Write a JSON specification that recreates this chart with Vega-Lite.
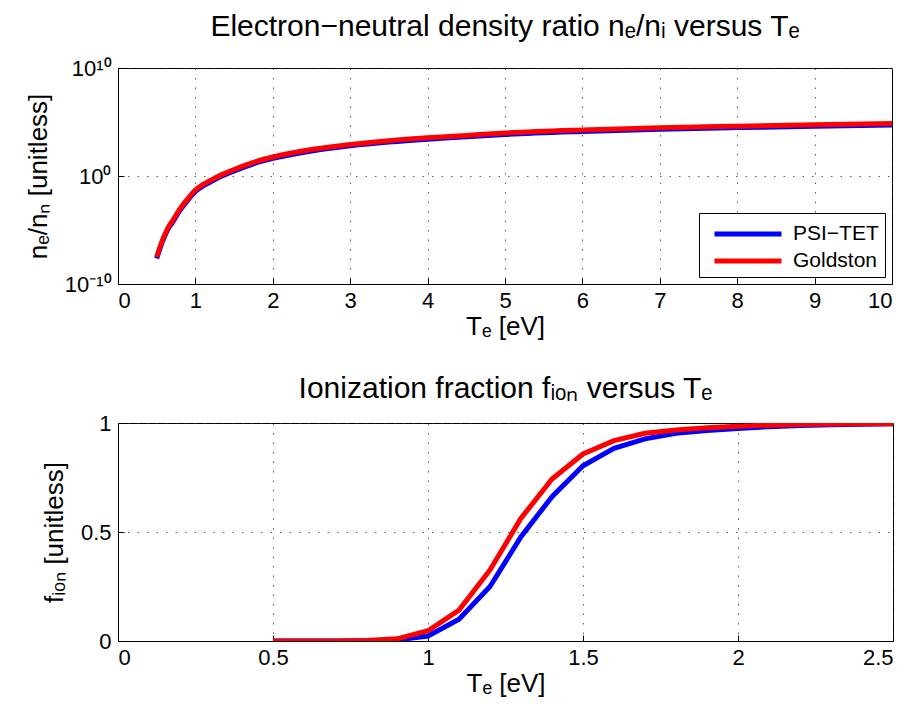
{
  "$schema": "https://vega.github.io/schema/vega-lite/v6.json",
  "background": "white",
  "padding": {"left": 24, "right": 19, "top": 11, "bottom": 5},
  "datasets": {
    "top": [
      {"T": 0.5, "model": "PSI−TET", "value": 2.34e-8},
      {"T": 0.55, "model": "PSI−TET", "value": 2.88e-7},
      {"T": 0.6, "model": "PSI−TET", "value": 2.34e-6},
      {"T": 0.65, "model": "PSI−TET", "value": 1.38e-5},
      {"T": 0.7, "model": "PSI−TET", "value": 4.67e-5},
      {"T": 0.8, "model": "PSI−TET", "value": 6.59e-4},
      {"T": 0.9, "model": "PSI−TET", "value": 5.62e-3},
      {"T": 1.0, "model": "PSI−TET", "value": 0.0371},
      {"T": 1.1, "model": "PSI−TET", "value": 0.123},
      {"T": 1.2, "model": "PSI−TET", "value": 0.295},
      {"T": 1.35, "model": "PSI−TET", "value": 1.046},
      {"T": 1.5, "model": "PSI−TET", "value": 2.95},
      {"T": 1.75, "model": "PSI−TET", "value": 13.5},
      {"T": 2.0, "model": "PSI−TET", "value": 42.6},
      {"T": 2.5, "model": "PSI−TET", "value": 209},
      {"T": 3.0, "model": "PSI−TET", "value": 616},
      {"T": 3.5, "model": "PSI−TET", "value": 1378},
      {"T": 4.0, "model": "PSI−TET", "value": 2566},
      {"T": 4.5, "model": "PSI−TET", "value": 4258},
      {"T": 5.0, "model": "PSI−TET", "value": 7067},
      {"T": 6.0, "model": "PSI−TET", "value": 13466},
      {"T": 7.0, "model": "PSI−TET", "value": 21342},
      {"T": 8.0, "model": "PSI−TET", "value": 30146},
      {"T": 9.0, "model": "PSI−TET", "value": 40666},
      {"T": 10.0, "model": "PSI−TET", "value": 53609},
      {"T": 0.5, "model": "Goldston", "value": 3.16e-8},
      {"T": 0.55, "model": "Goldston", "value": 3.89e-7},
      {"T": 0.6, "model": "Goldston", "value": 3.16e-6},
      {"T": 0.65, "model": "Goldston", "value": 1.86e-5},
      {"T": 0.7, "model": "Goldston", "value": 6.31e-5},
      {"T": 0.8, "model": "Goldston", "value": 8.91e-4},
      {"T": 0.9, "model": "Goldston", "value": 7.59e-3},
      {"T": 1.0, "model": "Goldston", "value": 0.0501},
      {"T": 1.1, "model": "Goldston", "value": 0.166},
      {"T": 1.2, "model": "Goldston", "value": 0.398},
      {"T": 1.35, "model": "Goldston", "value": 1.413},
      {"T": 1.5, "model": "Goldston", "value": 3.98},
      {"T": 1.75, "model": "Goldston", "value": 18.2},
      {"T": 2.0, "model": "Goldston", "value": 57.5},
      {"T": 2.5, "model": "Goldston", "value": 282},
      {"T": 3.0, "model": "Goldston", "value": 832},
      {"T": 3.5, "model": "Goldston", "value": 1862},
      {"T": 4.0, "model": "Goldston", "value": 3467},
      {"T": 4.5, "model": "Goldston", "value": 5754},
      {"T": 5.0, "model": "Goldston", "value": 9550},
      {"T": 6.0, "model": "Goldston", "value": 18197},
      {"T": 7.0, "model": "Goldston", "value": 28840},
      {"T": 8.0, "model": "Goldston", "value": 40738},
      {"T": 9.0, "model": "Goldston", "value": 54954},
      {"T": 10.0, "model": "Goldston", "value": 72444}
    ],
    "bottom": [
      {"T": 0.5, "model": "PSI−TET", "f": 0.0},
      {"T": 0.6, "model": "PSI−TET", "f": 0.0},
      {"T": 0.7, "model": "PSI−TET", "f": 0.0},
      {"T": 0.8, "model": "PSI−TET", "f": 0.001},
      {"T": 0.9, "model": "PSI−TET", "f": 0.005},
      {"T": 1.0, "model": "PSI−TET", "f": 0.023},
      {"T": 1.1, "model": "PSI−TET", "f": 0.1},
      {"T": 1.2, "model": "PSI−TET", "f": 0.25},
      {"T": 1.3, "model": "PSI−TET", "f": 0.478},
      {"T": 1.4, "model": "PSI−TET", "f": 0.662},
      {"T": 1.5, "model": "PSI−TET", "f": 0.804},
      {"T": 1.6, "model": "PSI−TET", "f": 0.884},
      {"T": 1.7, "model": "PSI−TET", "f": 0.927},
      {"T": 1.8, "model": "PSI−TET", "f": 0.953},
      {"T": 1.9, "model": "PSI−TET", "f": 0.965},
      {"T": 2.0, "model": "PSI−TET", "f": 0.975},
      {"T": 2.1, "model": "PSI−TET", "f": 0.983},
      {"T": 2.2, "model": "PSI−TET", "f": 0.988},
      {"T": 2.3, "model": "PSI−TET", "f": 0.992},
      {"T": 2.4, "model": "PSI−TET", "f": 0.994},
      {"T": 2.5, "model": "PSI−TET", "f": 0.996},
      {"T": 0.5, "model": "Goldston", "f": 0.0},
      {"T": 0.6, "model": "Goldston", "f": 0.0},
      {"T": 0.7, "model": "Goldston", "f": 0.0},
      {"T": 0.8, "model": "Goldston", "f": 0.002},
      {"T": 0.9, "model": "Goldston", "f": 0.01},
      {"T": 1.0, "model": "Goldston", "f": 0.047},
      {"T": 1.1, "model": "Goldston", "f": 0.142},
      {"T": 1.2, "model": "Goldston", "f": 0.326},
      {"T": 1.3, "model": "Goldston", "f": 0.563},
      {"T": 1.4, "model": "Goldston", "f": 0.743},
      {"T": 1.5, "model": "Goldston", "f": 0.858},
      {"T": 1.6, "model": "Goldston", "f": 0.919},
      {"T": 1.7, "model": "Goldston", "f": 0.953},
      {"T": 1.8, "model": "Goldston", "f": 0.968},
      {"T": 1.9, "model": "Goldston", "f": 0.978},
      {"T": 2.0, "model": "Goldston", "f": 0.985},
      {"T": 2.1, "model": "Goldston", "f": 0.99},
      {"T": 2.2, "model": "Goldston", "f": 0.993},
      {"T": 2.3, "model": "Goldston", "f": 0.995},
      {"T": 2.4, "model": "Goldston", "f": 0.996},
      {"T": 2.5, "model": "Goldston", "f": 0.997}
    ]
  },
  "config": {
    "font": "Liberation Sans",
    "view": {"stroke": "black", "strokeWidth": 1},
    "axis": {
      "domainColor": "black",
      "domainWidth": 1,
      "tickColor": "black",
      "tickSize": -6,
      "labelFontSize": 22,
      "labelColor": "black",
      "labelFont": "Liberation Sans",
      "titleFontSize": 26,
      "titleFont": "Liberation Sans",
      "titleFontWeight": "normal",
      "titleColor": "black",
      "gridColor": "#333333",
      "gridDash": [1.5, 8],
      "gridOpacity": 0.8,
      "gridWidth": 1
    },
    "title": {"fontSize": 30, "font": "Liberation Sans", "fontWeight": "normal", "color": "black", "anchor": "middle"},
    "legend": {"labelFont": "Liberation Sans"}
  },
  "spacing": 33,
  "resolve": {"legend": {"color": "independent"}},
  "vconcat": [
    {
      "width": 774,
      "height": 216,
      "title": {"text": "Electron−neutral density ratio nₑ/nᵢ versus Tₑ", "offset": 15},
      "data": {"name": "top"},
      "layer": [
        {
          "transform": [{"filter": "datum.model == 'PSI−TET'"}],
          "mark": {"type": "line", "strokeWidth": 5, "interpolate": "monotone", "clip": true}
        },
        {
          "transform": [{"filter": "datum.model == 'Goldston'"}],
          "mark": {"type": "line", "strokeWidth": 5, "interpolate": "monotone", "clip": true}
        }
      ],
      "encoding": {
        "x": {
          "field": "T", "type": "quantitative",
          "scale": {"domain": [0, 10], "nice": false, "zero": false},
          "axis": {"values": [0,1,2,3,4,5,6,7,8,9,10], "title": "Tₑ [eV]", "labelPadding": 12, "titlePadding": 2, "format": "d"}
        },
        "y": {
          "field": "value", "type": "quantitative",
          "scale": {"type": "log", "domain": [1e-10, 1e10], "nice": false},
          "axis": {
            "values": [1e-10, 1, 1e10],
            "labelExpr": "datum.value > 2 ? '10¹⁰' : (datum.value > 0.5 ? '10⁰' : '10⁻¹⁰')",
            "title": "nₑ/nₙ [unitless]",
            "labelPadding": 13,
            "titlePadding": 13
          }
        },
        "color": {
          "field": "model", "type": "nominal",
          "scale": {"domain": ["PSI−TET", "Goldston"], "range": ["#0000ff", "#ff0000"]},
          "legend": {
            "title": null,
            "orient": "bottom-right",
            "offset": 7,
            "symbolType": "M-0.44,0H4.92",
            "symbolSize": 625,
            "symbolStrokeWidth": 5,
            "labelFontSize": 21,
            "labelColor": "black",
            "strokeColor": "black",
            "fillColor": "white",
            "padding": 6,
            "rowPadding": 2,
            "labelOffset": 58
          }
        }
      }
    },
    {
      "width": 775,
      "height": 218,
      "title": {"text": "Ionization fraction fᵢₒₙ versus Tₑ", "offset": 8},
      "data": {"name": "bottom"},
      "layer": [
        {
          "transform": [{"filter": "datum.model == 'PSI−TET'"}],
          "mark": {"type": "line", "strokeWidth": 5, "clip": true}
        },
        {
          "transform": [{"filter": "datum.model == 'Goldston'"}],
          "mark": {"type": "line", "strokeWidth": 5, "clip": true}
        }
      ],
      "encoding": {
        "x": {
          "field": "T", "type": "quantitative",
          "scale": {"domain": [0, 2.5], "nice": false, "zero": false},
          "axis": {"values": [0, 0.5, 1, 1.5, 2, 2.5], "format": "~g", "title": "Tₑ [eV]", "labelPadding": 12, "titlePadding": 2}
        },
        "y": {
          "field": "f", "type": "quantitative",
          "scale": {"domain": [0, 1], "nice": false},
          "axis": {"values": [0, 0.5, 1], "format": "~g", "title": "fᵢₒₙ [unitless]", "labelPadding": 13, "titlePadding": 13}
        },
        "color": {
          "field": "model", "type": "nominal",
          "scale": {"domain": ["PSI−TET", "Goldston"], "range": ["#0000ff", "#ff0000"]},
          "legend": null
        }
      }
    }
  ]
}
